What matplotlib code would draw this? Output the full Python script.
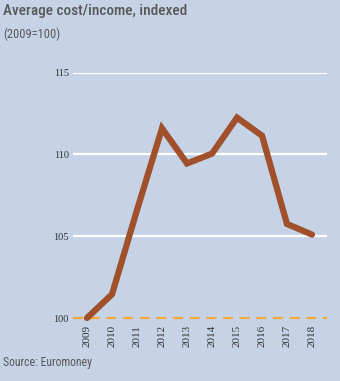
import matplotlib
matplotlib.use("Agg")
import matplotlib.pyplot as plt
from matplotlib import font_manager

years = [2009, 2010, 2011, 2012, 2013, 2014, 2015, 2016, 2017, 2018]
values = [100.0, 101.45, 106.6, 111.6, 109.45, 110.05, 112.25, 111.15, 105.75, 105.1]
yticks = [100, 105, 110, 115]

names = {f.name for f in font_manager.fontManager.ttflist}
cond_name = next((n for n in ["Liberation Sans Narrow", "DejaVu Sans Condensed", "Roboto Condensed", "Open Sans Condensed"] if n in names), "DejaVu Sans")

bg = "#c6d3e6"
fig = plt.figure(figsize=(3.4, 3.81), dpi=100, facecolor=bg)
ax = fig.add_axes([73/340, 1-318/381, (327-73)/340, (318-72.7)/381])
ax.set_facecolor(bg)
ax.set_xlim(2008.44, 2018.6)
ax.set_ylim(100, 115)

for t in yticks[1:]:
    ax.axhline(t, color="white", lw=1.6, zorder=1)
ax.axhline(100, color="#f5a93a", lw=1.6, ls=(0, (4.5, 3)), zorder=2, clip_on=False)

ax.plot(years, values, color="#a0502a", lw=4.5, solid_capstyle="round",
        solid_joinstyle="miter", zorder=3, clip_on=False)

for s in ax.spines.values():
    s.set_visible(False)
ax.tick_params(length=0)
ax.set_yticks(yticks)
ax.set_yticklabels([str(t) for t in yticks], fontsize=7.5, family="Liberation Serif", color="#333333")
ax.set_xticks(years)
ax.set_xticklabels([str(y) for y in years], rotation=90, fontsize=8,
                   family="Liberation Serif", color="#333333")
ax.tick_params(axis="y", pad=3)
ax.tick_params(axis="x", pad=5)

cond = [cond_name, "DejaVu Sans"]
fig.text(3/340, 1-4/381, "Average cost/income, indexed", fontsize=11, family=cond,
         color="#595959", va="top", ha="left", fontstretch="condensed", weight="medium")
fig.text(3/340, 1-28/381, "(2009=100)", fontsize=9, family=cond,
         color="#595959", va="top", ha="left", fontstretch="condensed")
fig.text(3/340, 1-356/381, "Source: Euromoney", fontsize=8.5, family=cond,
         color="#595959", va="top", ha="left", fontstretch="condensed")

fig.savefig("out.png", dpi=100, facecolor=bg)
